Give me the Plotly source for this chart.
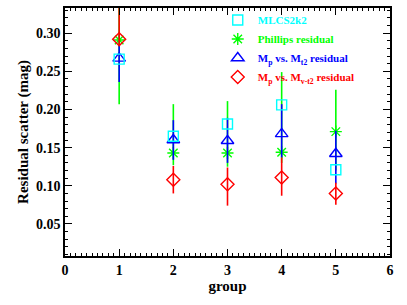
import plotly.graph_objects as go

groups = [1, 2, 3, 4, 5]

mlcs = [0.266, 0.165, 0.181, 0.206, 0.121]

phillips = [0.291, 0.143, 0.143, 0.144, 0.171]
phillips_hi = [0.345, 0.207, 0.211, 0.249, 0.226]
phillips_lo = [0.207, 0.127, 0.125, 0.130, 0.120]

mpi = [0.267, 0.160, 0.159, 0.168, 0.142]
mpi_hi = [0.285, 0.186, 0.189, 0.207, 0.172]
mpi_lo = [0.236, 0.134, 0.130, 0.137, 0.103]

mpvi = [0.292, 0.108, 0.102, 0.111, 0.090]
mpvi_hi = [0.345, 0.126, 0.124, 0.137, 0.104]
mpvi_lo = [0.285, 0.090, 0.074, 0.087, 0.075]

names = ["MLCS2k2", "Phillips residual",
         "M<sub>p</sub> vs. M<sub>t2</sub> residual",
         "M<sub>p</sub> vs. M<sub>v-t2</sub> residual"]
colors = ["#00FFFF", "#00FF00", "#0000FF", "#FF0000"]

FONT = "Liberation Serif, Times New Roman, serif"

def err(vals, hi, lo, color):
    return dict(type="data", symmetric=False,
                array=[h - v for h, v in zip(hi, vals)],
                arrayminus=[v - l for l, v in zip(lo, vals)],
                color=color, thickness=1.6, width=0)

def lab(i):
    return f'<span style="color:{colors[i]}"><b>{names[i]}</b></span>'

fig = go.Figure()
fig.add_trace(go.Scatter(x=groups, y=phillips, mode="markers", name=lab(1), legendrank=2,
                         error_y=err(phillips, phillips_hi, phillips_lo, colors[1]),
                         marker=dict(symbol="asterisk-open", size=10, color=colors[1],
                                     line=dict(width=1.4, color=colors[1]))))
fig.add_trace(go.Scatter(x=groups, y=mpi, mode="markers", name=lab(2), legendrank=3,
                         error_y=err(mpi, mpi_hi, mpi_lo, colors[2]),
                         marker=dict(symbol="triangle-up-open", size=11, color=colors[2],
                                     line=dict(width=1.4, color=colors[2]))))
fig.add_trace(go.Scatter(x=groups, y=mpvi, mode="markers", name=lab(3), legendrank=4,
                         error_y=err(mpvi, mpvi_hi, mpvi_lo, colors[3]),
                         marker=dict(symbol="diamond-open", size=10, color=colors[3],
                                     line=dict(width=1.4, color=colors[3]))))
fig.add_trace(go.Scatter(x=groups, y=mlcs, mode="markers", name=lab(0), legendrank=1,
                         marker=dict(symbol="square-open", size=10, color=colors[0],
                                     line=dict(width=1.4, color=colors[0]))))

axis_common = dict(showline=True, linecolor="black", linewidth=1.5, mirror="ticks",
                   ticks="inside", tickcolor="black", tickwidth=1, showgrid=False,
                   zeroline=False, automargin=False,
                   tickfont=dict(family=FONT, size=14, color="black", weight="bold"))

fig.update_xaxes(range=[0, 6], dtick=1, tick0=0, ticklen=7,
                 minor=dict(dtick=0.1, ticks="inside", ticklen=3, tickcolor="black", showgrid=False),
                 title=dict(text="<b>group</b>", font=dict(family=FONT, size=15, color="black"),
                            standoff=0),
                 **axis_common)
fig.update_yaxes(range=[0.008, 0.333], dtick=0.05, tick0=0, ticklen=7, tickformat=".2f",
                 minor=dict(dtick=0.01, ticks="inside", ticklen=3, tickcolor="black", showgrid=False),
                 title=dict(text="<b>Residual scatter (mag)</b>",
                            font=dict(family=FONT, size=15, color="black"), standoff=4),
                 **axis_common)

fig.update_layout(
    width=407, height=305,
    margin=dict(l=65, r=17, t=6, b=49),
    plot_bgcolor="white", paper_bgcolor="white",
    legend=dict(x=0.47, y=1.01, xanchor="left", yanchor="top",
                bgcolor="rgba(0,0,0,0)", borderwidth=0, tracegroupgap=0,
                font=dict(family=FONT, size=11, color="black"),
                itemwidth=30),
)

fig.write_html("out.html", config={"displayModeBar": False},
               post_script="document.body.style.margin='0';")
